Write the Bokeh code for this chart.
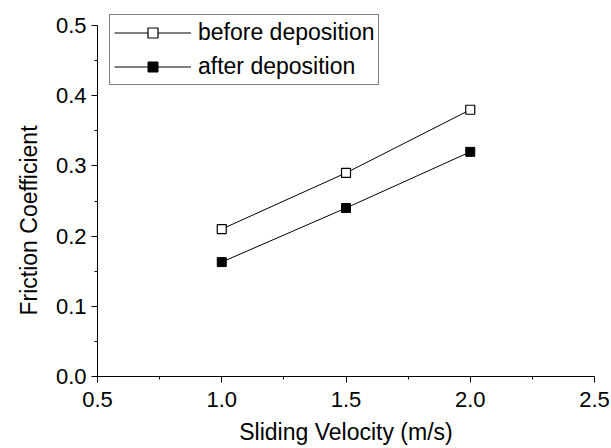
from bokeh.plotting import figure
from bokeh.models import (Range1d, FixedTicker, PrintfTickFormatter, Legend, LegendItem, Title)
from bokeh.embed import file_html
from bokeh.resources import INLINE

# data
velocity = [1.0, 1.5, 2.0]
before_deposition = [0.21, 0.29, 0.38]
after_deposition = [0.163, 0.24, 0.32]
x_ticks = [0.5, 1.0, 1.5, 2.0, 2.5]
x_minor = [0.75, 1.25, 1.75, 2.25]
y_ticks = [0.0, 0.1, 0.2, 0.3, 0.4, 0.5]
y_minor = [0.05, 0.15, 0.25, 0.35, 0.45]

FONT = "Liberation Sans"
FS = "22px"
FS_T = "23px"

p = figure(width=611, height=448, output_backend="svg", toolbar_location=None,
           x_range=Range1d(0.5, 2.5), y_range=Range1d(0.0, 0.52137),
           min_border_left=97, min_border_right=17, min_border_top=10, min_border_bottom=72)
p.outline_line_color = None
p.grid.visible = False
p.background_fill_color = "white"
p.border_fill_color = "white"

p.xaxis.ticker = FixedTicker(ticks=x_ticks, minor_ticks=x_minor)
p.yaxis.ticker = FixedTicker(ticks=y_ticks, minor_ticks=y_minor)
p.yaxis.bounds = (0.0, 0.5)
p.xaxis.formatter = PrintfTickFormatter(format="%.1f")
p.yaxis.formatter = PrintfTickFormatter(format="%.1f")
p.xaxis.axis_label = "Sliding Velocity (m/s)"

for ax in (p.xaxis, p.yaxis):
    ax.axis_line_color = "black"
    ax.axis_line_width = 1
    ax.major_tick_line_color = "black"
    ax.minor_tick_line_color = "black"
    ax.major_tick_in = 0
    ax.major_tick_out = 6
    ax.minor_tick_in = 0
    ax.minor_tick_out = 3
    ax.major_label_text_font = FONT
    ax.major_label_text_font_size = FS
    ax.major_label_text_color = "black"
    ax.axis_label_text_font = FONT
    ax.axis_label_text_font_size = FS_T
    ax.axis_label_text_font_style = "normal"
    ax.axis_label_text_color = "black"
p.xaxis.major_label_standoff = 9
p.yaxis.major_label_standoff = 5
p.xaxis.axis_label_standoff = 9

ytitle = Title(text="Friction Coefficient", align="left", offset=61,
               text_font=FONT, text_font_size=FS_T, text_font_style="normal",
               text_color="black", standoff=22)
p.add_layout(ytitle, "left")

l1 = p.line(velocity, before_deposition, line_color="black", line_width=1)
s1 = p.scatter(velocity, before_deposition, marker="square", size=9,
               fill_color="white", line_color="black", line_width=1.2)
l2 = p.line(velocity, after_deposition, line_color="black", line_width=1)
s2 = p.scatter(velocity, after_deposition, marker="square", size=9,
               fill_color="black", line_color="black", line_width=1)

legend = Legend(items=[LegendItem(label="before deposition", renderers=[l1, s1]),
                       LegendItem(label="after deposition", renderers=[l2, s2])],
                location=(12, 291), orientation="vertical",
                border_line_color="black", border_line_width=1,
                background_fill_color="white", background_fill_alpha=1,
                padding=4, spacing=7, margin=0,
                glyph_width=77, glyph_height=25, label_height=25, label_standoff=7,
                label_text_font=FONT, label_text_font_size=FS_T, label_text_color="black")
p.add_layout(legend, "center")

open("out.html", "w").write(file_html(p, INLINE))
